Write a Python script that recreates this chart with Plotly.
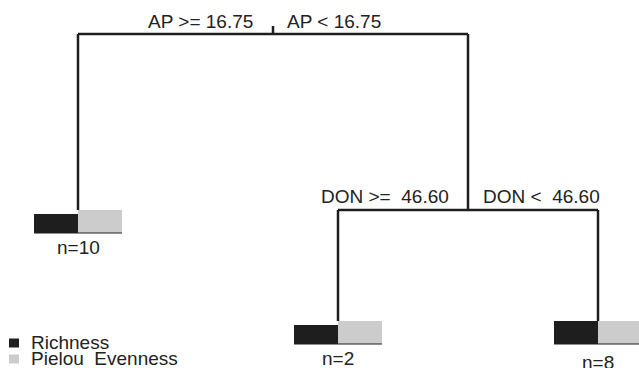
import plotly.graph_objects as go

# ---- data ----
split_labels_left = ["AP >= 16.75", "DON >=\u00a0 46.60"]
split_labels_right = ["AP < 16.75", "DON <\u00a0 46.60"]
leaf_n = ["n=10", "n=2", "n=8"]
richness = [0.83, 0.83, 1.0]
evenness = [1.0, 1.0, 1.0]
legend_labels = ["Richness", "Pielou\u00a0 Evenness"]

# ---- layout (pixel geometry of the tree) ----
W, H = 639, 368
FONT = dict(family="Liberation Sans, Arial, sans-serif", size=19, color="#222222")
LINE = dict(color="#1e1e1e", width=2.5)
C_RICH, C_EVEN = "#1e1e1e", "#cccccc"
BAR_W, BAR_H = 44, 23

root = dict(x=273, y=34, xl=78, xr=468)
node2 = dict(x=468, y=210, xl=338, xr=598)
leaf_x = [78, 338, 598]
leaf_bottom = [233, 344, 344]
leaf_label_y = [247, 358, 362]
split_label_pos = [((200, 21), (334, 21)), ((385, 196), (541, 196))]

fig = go.Figure()
shapes = []
ann = []

def seg(x0, y0, x1, y1, **kw):
    shapes.append(dict(type="line", x0=x0, y0=y0, x1=x1, y1=y1, xref="x", yref="y",
                       line=kw.get("line", LINE)))

# root split
seg(root["x"], root["y"] - 8, root["x"], root["y"])
seg(root["xl"], root["y"], root["xr"], root["y"])
# left branch to leaf 0
seg(root["xl"], root["y"], leaf_x[0], leaf_bottom[0] - BAR_H * evenness[0])
# right branch to node2
seg(root["xr"], root["y"], node2["x"], node2["y"])
seg(node2["xl"], node2["y"], node2["xr"], node2["y"])
seg(node2["xl"], node2["y"], leaf_x[1], leaf_bottom[1] - BAR_H * evenness[1])
seg(node2["xr"], node2["y"], leaf_x[2], leaf_bottom[2] - BAR_H * max(richness[2], evenness[2]))

# leaf bars
for i in range(3):
    xc, yb = leaf_x[i], leaf_bottom[i]
    shapes.append(dict(type="rect", x0=xc - BAR_W, x1=xc, y0=yb, y1=yb - BAR_H * richness[i],
                       xref="x", yref="y", fillcolor=C_RICH, line=dict(width=0)))
    shapes.append(dict(type="rect", x0=xc, x1=xc + BAR_W, y0=yb, y1=yb - BAR_H * evenness[i],
                       xref="x", yref="y", fillcolor=C_EVEN, line=dict(width=0)))
    seg(xc - BAR_W, yb, xc + BAR_W, yb, line=dict(color="#1e1e1e", width=1))
    ann.append(dict(x=xc, y=leaf_label_y[i], text=leaf_n[i], showarrow=False,
                    xref="x", yref="y", xanchor="center", yanchor="middle", font=FONT))

# split labels
for i in range(2):
    (lx, ly), (rx, ry) = split_label_pos[i]
    ann.append(dict(x=lx, y=ly, text=split_labels_left[i], showarrow=False, xref="x", yref="y",
                    xanchor="center", yanchor="middle", font=FONT))
    ann.append(dict(x=rx, y=ry, text=split_labels_right[i], showarrow=False, xref="x", yref="y",
                    xanchor="center", yanchor="middle", font=FONT))

# legend
leg_y = [343, 359]
for i, (lab, col) in enumerate(zip(legend_labels, [C_RICH, C_EVEN])):
    shapes.append(dict(type="rect", x0=9, x1=19, y0=leg_y[i] - 4.5, y1=leg_y[i] + 4.5,
                       xref="x", yref="y", fillcolor=col, line=dict(width=0)))
    ann.append(dict(x=29, y=leg_y[i] - 1, text=lab, showarrow=False, xref="x", yref="y",
                    xanchor="left", yanchor="middle", font=FONT))

fig.update_layout(
    width=W, height=H, margin=dict(l=0, r=0, t=0, b=0),
    paper_bgcolor="white", plot_bgcolor="white",
    xaxis=dict(range=[0, W], visible=False, fixedrange=True),
    yaxis=dict(range=[H, 0], visible=False, fixedrange=True),
    shapes=shapes, annotations=ann, showlegend=False,
)
fig.write_html(
    "out.html",
    config={"displayModeBar": False},
    post_script="document.body.style.margin='0';document.body.style.overflow='hidden';",
)
